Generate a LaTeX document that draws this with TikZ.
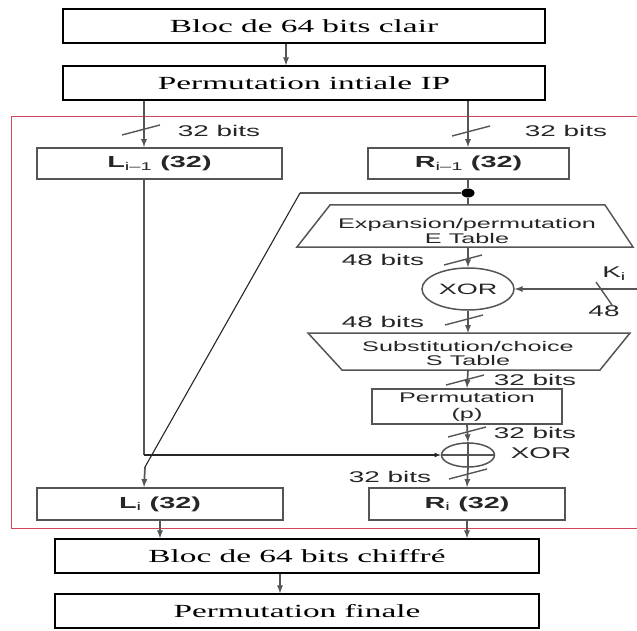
\documentclass[tikz,border=0pt]{standalone}
\usepackage{fontspec}
\newfontfamily\desserif[FakeStretch=1.8]{Liberation Serif}
\newfontfamily\dessans[FakeStretch=1.8]{Liberation Sans}
\usetikzlibrary{arrows,shapes.geometric}
\definecolor{linegray}{RGB}{85,85,85}
\definecolor{framered}{RGB}{210,70,90}

\begin{document}
\begin{tikzpicture}[x=1pt, y=-1pt, >=latex,
  blocbox/.style={draw, line width=1.5pt, inner sep=0pt, minimum width=482pt, minimum height=34pt, font=\desserif\fontsize{18.5}{20}\selectfont},
  halfbox/.style={draw=linegray, line width=2pt, inner sep=0pt, minimum height=31pt, text=black!85, font=\dessans\bfseries\fontsize{16}{18}\selectfont},
  tabletext/.style={align=center, inner sep=0pt, text=black!85, font=\dessans\fontsize{14}{15}\selectfont},
  bitlabel/.style={inner sep=0pt, text=black!85, font=\dessans\fontsize{15.5}{17}\selectfont},
  wire/.style={linegray, line width=1.7pt}]
\useasboundingbox (0,0) rectangle (637,631);

% round frame
\draw [framered, line width=1pt] (637,117) -- (11,117) -- (11,528) -- (637,528);

% column coordinates
\coordinate (lcol) at (144,0);
\coordinate (rcol) at (468,0);
\coordinate (midcol) at (286,0);
\coordinate (fincol) at (280,0);
\coordinate (bend1) at (300,193);
\coordinate (bend2) at (145,467);
\coordinate (kin) at (637,289);

% blocks
\node [blocbox] (clair) at (304,26) {Bloc de 64 bits clair};
\node [blocbox] (ip) at (304,83) {Permutation intiale IP};
\node [blocbox, minimum width=484pt] (chiffre) at (297,556) {Bloc de 64 bits chiffré};
\node [blocbox, minimum width=484pt] (finale) at (297,611) {Permutation finale};

\node [halfbox, minimum width=245pt] (lprev) at (159.5,163.5) {L\textsubscript{\mdseries i–1} (32)};
\node [halfbox, minimum width=201pt] (rprev) at (468.5,163.5) {R\textsubscript{\mdseries i–1} (32)};
\node [halfbox, minimum width=246pt, minimum height=32pt] (lnext) at (160,504) {L\textsubscript{\mdseries i} (32)};
\node [halfbox, minimum width=196pt, minimum height=32pt] (rnext) at (467,504) {R\textsubscript{\mdseries i} (32)};
\node [halfbox, minimum width=190pt, minimum height=35pt, align=center, font=\dessans\fontsize{14}{16}\selectfont] (perm) at (467,406.5) {Permutation\\(p)};

% E and S tables
\draw [wire, line width=1.5pt] (330,205) -- (605,205) -- (633,247) -- (297,247) -- cycle;
\draw [wire, line width=1.5pt] (308,333) -- (630,333) -- (600,370) -- (342,370) -- cycle;
\coordinate (etop) at (468,205);
\coordinate (ebot) at (468,247);
\coordinate (stop) at (468,333);
\coordinate (sbot) at (468,370);
\node [tabletext] (etable) at (467,230.5) {Expansion/permutation\\E Table};
\node [tabletext, font=\dessans\fontsize{14}{14}\selectfont] (stable) at (468,353.5) {Substitution/choice\\S Table};

% XORs
\node [draw=linegray, line width=1.5pt, ellipse, minimum width=92pt, minimum height=42pt, inner sep=0pt, text=black!85, font=\dessans\fontsize{15}{17}\selectfont] (xor1) at (468,289) {XOR};
\node [draw=linegray, line width=1.5pt, ellipse, minimum width=53pt, minimum height=24pt, inner sep=0pt] (xor2) at (468,455) {};
\draw [wire, line width=1.4pt] (xor2.north) -- (xor2.south) (xor2.west) -- (xor2.east);
\node [ellipse, fill=black, minimum width=13pt, minimum height=9pt, inner sep=0pt] (split) at (468,193) {};

% connectors
\draw [wire,->] (clair.south -| midcol) -- (ip.north -| midcol);
\draw [wire,->] (ip.south -| lcol) -- (lprev.north -| lcol);
\draw [wire,->] (ip.south -| rcol) -- (rprev.north -| rcol);
\draw [wire] (rprev.south -| rcol) -- (split) -- (etop);
\draw [wire] (split) -- (bend1);
\draw [black!85, line width=1.1pt] (bend1) -- (bend2);
\draw [wire,->] (bend2) -- (lnext.north -| lcol);
\draw [wire] (lprev.south -| lcol) -- (lcol |- xor2.west);
\draw [black!85, line width=1.1pt, ->] (lcol |- xor2.west) -- (xor2.west);
\draw [wire,->] (ebot) -- (xor1.north);
\draw [wire,->] (kin) -- (xor1.east);
\draw [wire,->] (xor1.south) -- (stop);
\draw [wire,->] (sbot) -- (perm.north);
\draw [wire,->] (perm.south) -- (xor2.north);
\draw [wire,->] (xor2.south) -- (rnext.north);
\draw [wire,->] (lnext.south) -- (lnext.south |- chiffre.north);
\draw [wire,->] (rnext.south) -- (rnext.south |- chiffre.north);
\draw [wire,->] (chiffre.south -| fincol) -- (finale.north -| fincol);

% bit width marks
\foreach \sx/\sy in {141/130, 471/131, 463/260, 464/320, 465/380, 467/432, 468/474}
  \draw [linegray, line width=1.4pt] (\sx-19,\sy+5) -- (\sx+19,\sy-5);
\draw [linegray, line width=1.4pt] (596,282) -- (612,305);

% labels
\node [bitlabel] (lbits) at (219,131) {32 bits};
\node [bitlabel] (rbits) at (566,131) {32 bits};
\node [bitlabel] (ebits) at (383,260) {48 bits};
\node [bitlabel] (xbits) at (383,322) {48 bits};
\node [bitlabel] (sbits) at (535,380) {32 bits};
\node [bitlabel] (pbits) at (535,433) {32 bits};
\node [bitlabel] (obits) at (390,477) {32 bits};
\node [bitlabel] (xorlabel) at (541,453) {XOR};
\node [bitlabel] (keylabel) at (614,274) {K\textsubscript{i}};
\node [bitlabel] (keybits) at (604,311) {48};
\end{tikzpicture}
\end{document}
